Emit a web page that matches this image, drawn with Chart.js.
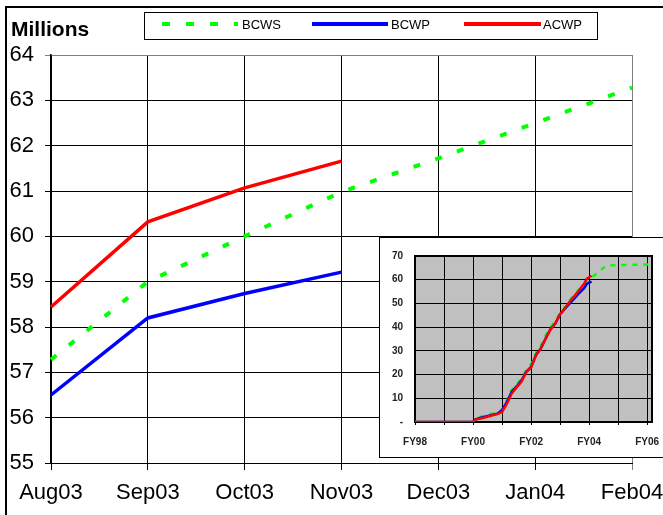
<!DOCTYPE html>
<html>
<head>
<meta charset="utf-8">
<script src="https://cdn.jsdelivr.net/npm/chart.js@4"></script>
<style>
  body { margin: 0; background: #fff; overflow: hidden; }
  #wrap { position: relative; width: 663px; height: 515px; overflow: hidden; font-family: "Liberation Sans", Arial, sans-serif; }
  #frame { position: absolute; left: 5px; top: 6px; width: 700px; height: 600px; border-left: 2px solid #000; border-top: 2px solid #000; }
  #main { position: absolute; left: 0; top: 0; }
  #unit { position: absolute; left: 11px; top: 18px; font-weight: bold; font-size: 21px; line-height: 1; }
  #legend { position: absolute; left: 144px; top: 12px; width: 452px; height: 26px; border: 1px solid #000; background: #fff; font-size: 13px; }
  .sw { position: absolute; top: 9px; height: 4px; }
  .lb { position: absolute; top: 5px; line-height: 1; }
  #insetBox { position: absolute; left: 379px; top: 237px; width: 300px; height: 219px; border: 1.5px solid #000; background: #fff; }
  #inset { position: absolute; left: 380px; top: 238px; }
</style>
</head>
<body>
<div id="wrap">
  <div id="frame"></div>
  <canvas id="main" width="663" height="515"></canvas>
  <div id="unit">Millions</div>
  <div id="legend">
    <div class="sw" style="left:17px;width:76px;background:repeating-linear-gradient(to right,#00ff00 0 8px,transparent 8px 24px);"></div>
    <div class="lb" style="left:97px;">BCWS</div>
    <div class="sw" style="left:167px;width:76px;background:#0000ff;"></div>
    <div class="lb" style="left:246px;">BCWP</div>
    <div class="sw" style="left:319px;width:77px;background:#ff0000;"></div>
    <div class="lb" style="left:398px;">ACWP</div>
  </div>
  <div id="insetBox"></div>
  <canvas id="inset" width="283" height="219"></canvas>
</div>
<script>
// main chart (millions)
const months = ['Aug03', 'Sep03', 'Oct03', 'Nov03', 'Dec03', 'Jan04', 'Feb04'];
const bcws = [57.28, 59.0, 60.0, 60.98, 61.72, 62.5, 63.28];
const bcwp = [56.5, 58.2, 58.74, 59.21];
const acwp = [58.44, 60.32, 61.07, 61.66];

// inset: months counted from Oct97 (start of FY98)
const insetMonths = [0, 24, 25, 28, 31, 34, 36, 38, 40, 42, 44, 46, 48, 50, 52, 54, 56, 58, 60, 62, 64, 66, 68, 70, 71, 72, 73];
const insetBcwp = [0, 0, 1.1, 2, 2.8, 3.5, 5, 8.5, 12.8, 15, 17.5, 21.2, 23.2, 28.2, 31, 35.2, 39, 41.5, 45.5, 47.8, 50, 52.2, 54.5, 56.5, 58.2, 58.74, 59.21];
const insetAcwp = [0, 0, 1.0, 1.7, 2.5, 3.3, 4.2, 7.7, 12, 14.6, 17, 21, 23, 28, 31, 35, 39, 41.5, 45.5, 48, 50.8, 53.2, 55.8, 58.44, 60.32, 61.07, 61.66];
const bcwsMonths = [0, 24, 25, 28, 31, 34, 36, 38, 40, 42, 44, 46, 48, 50, 52, 54, 56, 58, 60, 62, 64, 66, 68, 70, 71, 72, 73, 74, 75, 76, 79, 98];
const insetBcws = [0, 0, 1.6, 2.4, 3.4, 4.0, 5.2, 9, 13.5, 15.8, 18.5, 21.8, 24.5, 29, 32, 36.5, 40, 42.5, 46, 48.5, 51.5, 53.8, 56, 57.28, 59.0, 60.0, 60.98, 61.72, 62.5, 63.28, 66, 66.5];

const font = '"Liberation Sans", Arial, sans-serif';
Chart.defaults.font.family = font;
Chart.defaults.color = '#000';

new Chart(document.getElementById('main'), {
  type: 'line',
  data: {
    labels: months,
    datasets: [
      { label: 'BCWS', data: bcws, borderColor: '#00ff00', borderWidth: 4, borderDash: [7, 16], order: 2 },
      { label: 'BCWP', data: bcwp, borderColor: '#0000ff', borderWidth: 3.5, order: 1 },
      { label: 'ACWP', data: acwp, borderColor: '#ff0000', borderWidth: 3.5, order: 0 }
    ]
  },
  options: {
    responsive: false,
    animation: false,
    layout: { padding: { top: 55, right: 31, left: 0, bottom: 0 } },
    elements: { point: { radius: 0 }, line: { tension: 0 } },
    plugins: { legend: { display: false }, tooltip: { enabled: false } },
    scales: {
      x: {
        offset: false,
        grid: { color: c => c.index === months.length - 1 ? '#808080' : '#000', tickLength: 7 },
        border: { color: '#000' },
        ticks: { font: { size: 22 }, padding: 10, maxRotation: 0, autoSkip: false },
        afterFit: s => { s.height = 52; s.paddingLeft = 0; s.paddingRight = 0; }
      },
      y: {
        min: 55,
        max: 64,
        grid: { color: c => c.tick && c.tick.value === 64 ? '#808080' : '#000', tickLength: 6 },
        border: { color: '#000', width: 1.5 },
        ticks: { stepSize: 1, font: { size: 22 }, padding: 11 },
        afterFit: s => { s.width = 51; s.paddingTop = 0; s.paddingBottom = 0; }
      }
    }
  }
});

const insetBg = {
  id: 'insetBg',
  beforeDraw(chart) {
    const a = chart.chartArea, ctx = chart.ctx;
    ctx.save();
    ctx.fillStyle = '#c0c0c0';
    ctx.fillRect(a.left, a.top, a.right - a.left, a.bottom - a.top);
    ctx.restore();
  },
  beforeDatasetsDraw(chart) {
    const a = chart.chartArea, ctx = chart.ctx;
    ctx.save();
    ctx.strokeStyle = '#000';
    ctx.lineWidth = 2;
    ctx.strokeRect(a.left, a.top, a.right - a.left, a.bottom - a.top);
    ctx.restore();
  }
};

const pts = (xs, ys) => xs.map((x, i) => ({ x: x, y: ys[i] }));

new Chart(document.getElementById('inset'), {
  type: 'line',
  data: {
    datasets: [
      { label: 'BCWS', data: pts(bcwsMonths, insetBcws), borderColor: '#00ff00', borderWidth: 2.5, borderDash: [5, 6], order: 2 },
      { label: 'BCWP', data: pts(insetMonths, insetBcwp), borderColor: '#0000ff', borderWidth: 2.5, order: 1 },
      { label: 'ACWP', data: pts(insetMonths, insetAcwp), borderColor: '#ff0000', borderWidth: 2.5, order: 0 }
    ]
  },
  options: {
    responsive: false,
    animation: false,
    layout: { padding: { top: 13, right: 11, left: 0, bottom: 0 } },
    elements: { point: { radius: 0 }, line: { tension: 0 } },
    plugins: { legend: { display: false }, tooltip: { enabled: false } },
    scales: {
      x: {
        type: 'linear',
        min: 0,
        max: 98,
        grid: { color: '#000', tickLength: 3 },
        border: { display: false },
        ticks: {
          stepSize: 12,
          includeBounds: false,
          autoSkip: false,
          maxRotation: 0,
          padding: 11,
          color: '#222',
          font: { size: 10, weight: 'bold' },
          callback: v => v % 24 === 0 ? 'FY' + String((98 + v / 12) % 100).padStart(2, '0') : ''
        },
        afterFit: s => { s.height = 35; s.paddingRight = 0; }
      },
      y: {
        min: 0,
        max: 70,
        grid: { color: '#000', drawTicks: false },
        border: { display: false },
        ticks: {
          stepSize: 10,
          padding: 12,
          color: '#222',
          font: { size: 10, weight: 'bold' },
          callback: v => v === 0 ? '-' : v
        },
        afterFit: s => { s.width = 35; }
      }
    }
  },
  plugins: [insetBg]
});
</script>
</body>
</html>
